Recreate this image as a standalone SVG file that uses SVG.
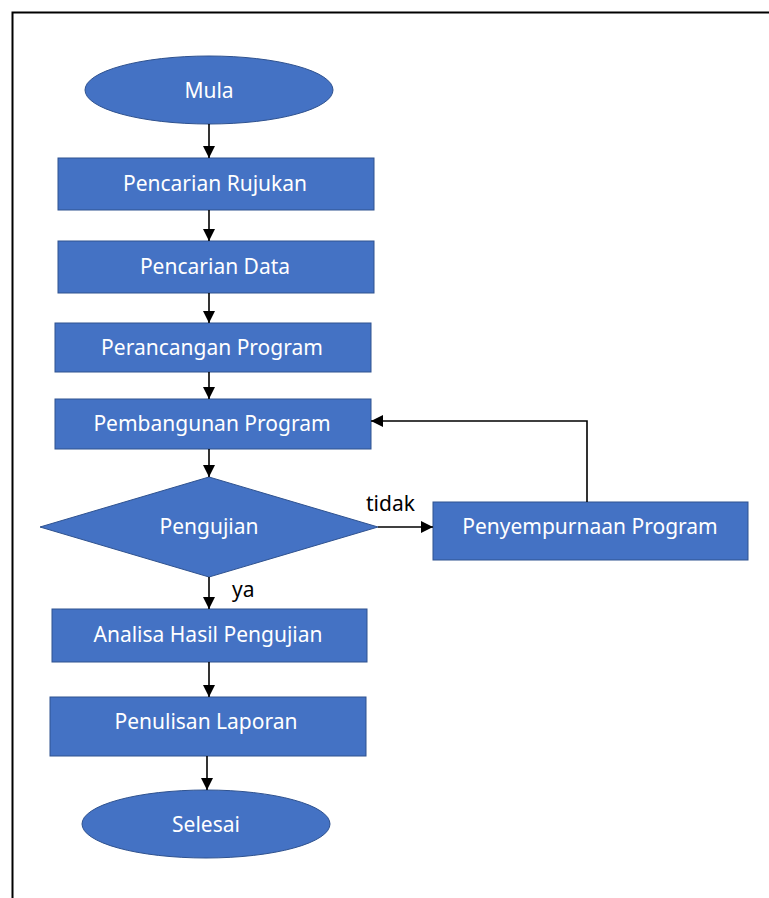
<svg xmlns="http://www.w3.org/2000/svg" width="769" height="898" viewBox="0 0 769 898">
<style>
.n{fill:#4472C4;stroke:#2F528F;stroke-width:1}
.t{fill:#fff;font-family:"Noto Sans","Open Sans",sans-serif;font-size:21px;text-anchor:middle;dominant-baseline:central}
.l{fill:#000;font-family:"Noto Sans","Open Sans",sans-serif;font-size:21px}
.c{stroke:#000;stroke-width:1.6;fill:none;marker-end:url(#a)}
</style>
<defs>
<marker id="a" viewBox="0 0 10 10" refX="10" refY="5" markerWidth="12" markerHeight="12" markerUnits="userSpaceOnUse" orient="auto"><path d="M0,0L10,5L0,10z" fill="#000"/></marker>
</defs>
<rect x="0" y="0" width="769" height="898" fill="#fff"/>
<path d="M12.5,898V12.5H769" fill="none" stroke="#000" stroke-width="2"/>
<g id="mula"><ellipse class="n" cx="209" cy="90" rx="124" ry="34"/><text class="t" x="209" y="90">Mula</text></g>
<g id="rujukan"><rect class="n" x="58" y="158" width="316" height="52"/><text class="t" x="215" y="183">Pencarian Rujukan</text></g>
<g id="data"><rect class="n" x="58" y="241" width="316" height="52"/><text class="t" x="215" y="266">Pencarian Data</text></g>
<g id="perancangan"><rect class="n" x="55" y="323" width="316" height="49"/><text class="t" x="212" y="347">Perancangan Program</text></g>
<g id="pembangunan"><rect class="n" x="55" y="399" width="316" height="50"/><text class="t" x="212" y="423">Pembangunan Program</text></g>
<g id="pengujian"><polygon class="n" points="209,477 378,527 209,577 40,527"/><text class="t" x="209" y="526">Pengujian</text></g>
<g id="penyempurnaan"><rect class="n" x="433" y="502" width="315" height="58"/><text class="t" x="590" y="526">Penyempurnaan Program</text></g>
<g id="analisa"><rect class="n" x="52" y="609" width="315" height="53"/><text class="t" x="208" y="634">Analisa Hasil Pengujian</text></g>
<g id="penulisan"><rect class="n" x="50" y="697" width="316" height="59"/><text class="t" x="206" y="721">Penulisan Laporan</text></g>
<g id="selesai"><ellipse class="n" cx="206" cy="824" rx="124" ry="34"/><text class="t" x="206" y="824">Selesai</text></g>
<g id="connectors">
<path class="c" d="M209,124V158"/>
<path class="c" d="M209,210V241"/>
<path class="c" d="M209,293V323"/>
<path class="c" d="M209,372V399"/>
<path class="c" d="M209,449V477"/>
<path class="c" d="M209,577V609"/>
<path class="c" d="M209,662V697"/>
<path class="c" d="M207,756V790"/>
<path class="c" d="M378,527H433"/>
<path class="c" d="M587,502V421H371"/>
<text class="l" x="366" y="511">tidak</text>
<text class="l" x="232" y="597">ya</text>
</g>
</svg>
